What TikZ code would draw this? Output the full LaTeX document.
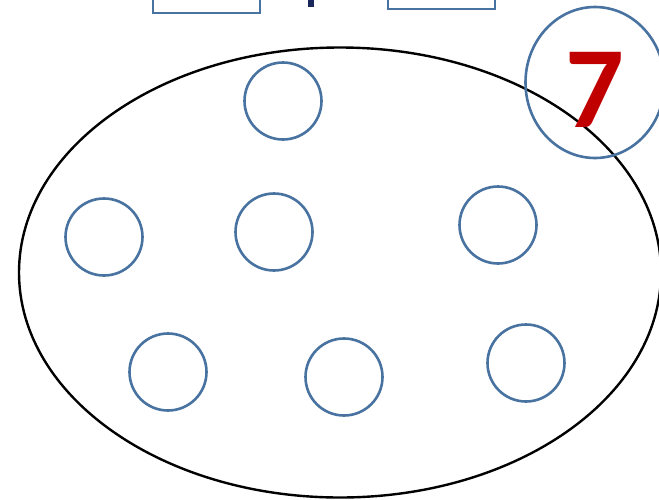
\documentclass[tikz,border=0pt]{standalone}
\usepackage{fontspec}
\newfontfamily\digitfont{Carlito}
\usetikzlibrary{positioning, shapes.geometric}
\definecolor{ringblue}{RGB}{72,114,160}
\definecolor{numred}{RGB}{192,0,0}
\definecolor{navy}{RGB}{25,40,90}

\begin{document}
\begin{tikzpicture}[
  x=1pt, y=-1pt,
  dot/.style={circle, draw=ringblue, line width=2.6pt, minimum size=77pt, inner sep=0pt},
  badge/.style={ellipse, draw=ringblue, line width=2.6pt, minimum width=139pt, minimum height=151pt, inner sep=0pt},
  setline/.style={draw=black, line width=2.4pt},
  tagbox/.style={draw=ringblue, line width=2.6pt}
]
  \useasboundingbox (0,0) rectangle (659,499);
  \clip (0,0) rectangle (659,499);

  % the set
  \node[setline, ellipse, minimum width=642pt, minimum height=450pt, inner sep=0pt] (set) at (340,272.5) {};

  % members
  \node[dot] (d1) at (283,101) {};
  \node[dot] (d2) at (104,237) {};
  \node[dot] (d3) at (274,232) {};
  \node[dot] (d4) at (498,225) {};
  \node[dot] (d5) at (168,372) {};
  \node[dot] (d6) at (344,377) {};
  \node[dot] (d7) at (526,363) {};

  % count
  \node[badge] (count) at (595,82.5) {};
  \node[text=numred, font=\digitfont\bfseries\fontsize{116}{116}\selectfont, inner sep=0pt] (seven) at (595,90) {7};

  % top row, cut off
  \draw[tagbox] (153,-20) rectangle (260,13);
  \draw[tagbox] (388,-20) rectangle (495,9);
  \fill[navy] (308,-5) rectangle (314,7);
\end{tikzpicture}
\end{document}
